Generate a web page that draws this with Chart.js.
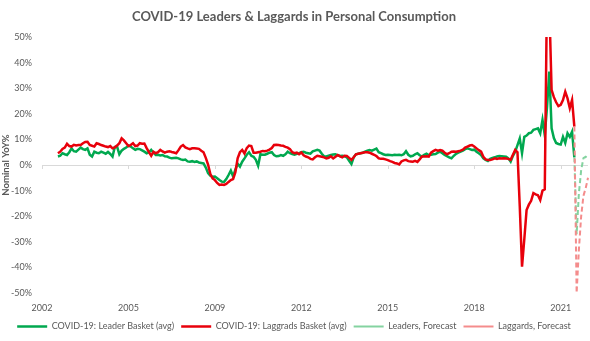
<!DOCTYPE html>
<html>
<head>
<meta charset="utf-8">
<script src="https://cdn.jsdelivr.net/npm/chart.js@4"></script>
<style>
  html, body { margin: 0; padding: 0; background: #fff; }
  #wrap { width: 590px; height: 341px; }
</style>
</head>
<body>
<div id="wrap"><canvas id="chart" width="590" height="341"></canvas></div>
<script>
// monthly categories, first one is Oct 2002
const firstMonth = { year: 2002, month: 10 };
const monthCount = 241;
const labelEvery = 38; // one year label every 38 months, like the excel axis

// nominal YoY %, actuals
const leaders = [
  null, null, null, null, null, null, null,
  3.3, 3.6, 4.6, 4.2, 3.9, 5.0, 6.5, 5.4, 5.2, 6.0,
  6.8, 6.2, 5.9, 6.5, 4.0, 3.3, 5.2, 4.8, 4.6, 5.2,
  4.8, 4.4, 5.1, 4.3, 3.3, 7.0, 7.2, 4.2, 5.6, 6.3,
  6.8, 7.6, 7.2, 6.5, 5.9, 6.3, 6.2, 5.7, 5.2, 4.6,
  5.0, 5.9, 4.8, 3.9, 4.0, 3.7, 3.9, 3.4, 3.3, 2.9,
  2.6, 2.7, 2.8, 2.6, 2.2, 2.0, 2.1, 1.4, 1.3, 1.5, 1.2,
  1.4, 1.0, 0.8, 0.6, -1.0, -3.2, -4.2, -4.6, -4.5, -5.2,
  -5.9, -6.5, -6.6, -5.5, -3.9, -2.2, -4.5, -1.8, 0.5, -0.6,
  1.3, 2.6, 4.0, 5.0, 3.6, 3.2, 2.0, -0.3, 4.2, 4.0,
  4.0, 4.4, 4.8, 5.0, 3.9, 3.4, 3.5, 3.9, 3.6, 4.2,
  5.2, 4.6, 4.3, 4.0, 4.4, 4.6, 5.0, 5.2, 4.8, 4.6,
  4.4, 5.3, 5.6, 5.9, 5.6, 4.4, 3.4, 3.3, 3.6, 3.9,
  4.1, 4.2, 3.8, 3.5, 3.6, 3.4, 3.0, 1.6, 0.4, 3.0,
  4.2, 4.4, 4.6, 4.8, 5.2, 5.6, 5.8, 5.6, 6.0, 6.4,
  5.0, 4.6, 4.2, 3.9, 4.0, 3.9, 3.8, 4.0, 3.9, 4.0,
  3.8, 4.2, 5.4, 4.0, 3.4, 3.6, 4.2, 4.6, 3.8, 3.3,
  4.0, 4.4, 3.9, 4.0, 4.2, 4.3, 4.8, 5.2, 4.6, 3.9, 3.5,
  3.0, 2.6, 3.6, 4.4, 4.8, 5.2, 5.6, 6.2, 6.5, 6.2,
  5.9, 6.0, 5.2, 4.6, 3.9, 2.6, 2.0, 1.6, 2.4, 2.8,
  3.0, 3.3, 3.5, 3.4, 3.3, 3.2, 2.6, 1.3, 3.6, 5.2,
  7.8, 10.4, 4.6, 11.0, 11.5, 12.4, 12.6, 13.7, 14.0, 14.3,
  12.4, 17.6, 11.7, 22.8, 36.5, 14.3, 10.5, 8.6, 8.2, 8.0,
  11.0, 8.6, 12.4, 11.0, 13.0, 3.0
];

const laggards = [
  null, null, null, null, null, null, null,
  4.6, 5.2, 6.3, 6.8, 8.3, 7.4, 7.2, 7.9, 7.6, 7.8,
  7.8, 8.5, 9.0, 9.1, 7.8, 7.5, 7.2, 8.5, 8.2, 7.8,
  7.5, 7.2, 7.0, 7.4, 6.5, 6.9, 7.6, 8.5, 10.4, 9.6,
  8.5, 7.4, 7.8, 8.5, 7.4, 7.6, 8.5, 8.3, 8.4, 6.6,
  5.0, 3.6, 5.2, 4.6, 5.0, 5.9, 5.3, 4.8, 5.2, 5.4,
  5.1, 4.9, 4.6, 5.8, 7.2, 7.8, 6.9, 6.5, 6.2, 6.5, 6.5,
  6.4, 6.3, 5.6, 5.0, 2.8, 0.2, -3.5, -5.2, -5.9, -7.0,
  -7.8, -7.6, -7.8, -7.4, -6.6, -5.9, -5.5, -2.8, 2.6, 5.0,
  5.9, 4.5, 6.6, 7.6, 7.4, 4.8, 4.8, 5.0, 5.2, 5.5,
  5.4, 5.6, 6.0, 6.6, 7.8, 7.9, 7.8, 7.6, 7.5, 7.1,
  6.8, 6.2, 5.0, 4.6, 4.8, 4.2, 4.9, 3.8, 3.3, 3.0,
  2.4, 2.2, 3.0, 3.6, 3.4, 3.2, 3.0, 2.6, 2.8, 3.4,
  2.6, 3.2, 3.9, 3.4, 3.0, 3.6, 3.5, 2.8, 2.0, 3.0,
  4.2, 4.4, 4.6, 4.8, 5.0, 5.0, 4.8, 4.4, 4.0, 3.5,
  2.6, 2.4, 2.4, 2.2, 1.9, 1.5, 1.2, 0.8, 0.6, 0.2,
  1.4, 1.8, 2.0, 1.5, 1.4, 1.3, 1.6, 1.2, 2.2, 3.3,
  3.3, 3.4, 3.3, 4.8, 5.4, 5.9, 5.6, 5.8, 5.6, 4.8, 4.2,
  4.6, 5.2, 5.3, 5.2, 5.4, 5.6, 6.0, 6.8, 7.2, 7.6,
  7.8, 7.2, 6.5, 5.8, 5.2, 3.2, 2.2, 2.0, 2.0, 2.2,
  2.6, 2.4, 2.6, 2.5, 2.6, 2.5, 2.4, 2.0, 4.0, 5.9,
  5.0, -16.0, -39.7, -29.0, -17.6, -15.5, -14.0, -11.0, -11.5, -11.8,
  -13.7, -10.0, -9.5, 70.0, 62.0, 29.3, 26.5, 24.5, 23.0, 23.5,
  25.4, 28.6, 26.0, 22.2, 25.4, 15.0
];

// forecasts start at the last actual month
const leadersForecast = [3.0, -27.0, -11.0, -2.0, 2.7, 3.2, 2.5];
const laggardsForecast = [15.0, -50.0, -33.0, -20.0, -12.0, -9.0, -5.0];

const seriesNames = [
  'COVID-19: Leader Basket (avg)',
  'COVID-19: Laggrads Basket (avg)',
  'Leaders, Forecast',
  'Laggards, Forecast'
];

const months = [];
for (let i = 0; i < monthCount; i++) {
  const m = firstMonth.month - 1 + i;
  const y = firstMonth.year + Math.floor(m / 12);
  months.push(y + '-' + String(m % 12 + 1).padStart(2, '0'));
}

const pad = n => Array(n).fill(null);

const textColor = '#595959';
const fontFamily = 'Lato, "Liberation Sans", sans-serif';

// little tick marks on the 0% line, under each year label
const zeroTicks = {
  id: 'zeroTicks',
  beforeDatasetsDraw(chart) {
    const { ctx, scales: { x, y } } = chart;
    const y0 = Math.round(y.getPixelForValue(0));
    ctx.save();
    ctx.strokeStyle = '#d9d9d9';
    ctx.lineWidth = 1;
    x.ticks.forEach(t => {
      const px = Math.round(x.getPixelForValue(t.value)) + 0.5;
      ctx.beginPath();
      ctx.moveTo(px, y0);
      ctx.lineTo(px, y0 + 4);
      ctx.stroke();
    });
    ctx.restore();
  }
};

new Chart(document.getElementById('chart'), {
  type: 'line',
  data: {
    labels: months,
    datasets: [{
      label: seriesNames[0],
      data: leaders,
      borderColor: '#00a84f',
      backgroundColor: '#00a84f',
      borderWidth: 2.5,
      order: 3
    }, {
      label: seriesNames[1],
      data: laggards,
      borderColor: '#e8000b',
      backgroundColor: '#e8000b',
      borderWidth: 2.5,
      order: 2
    }, {
      label: seriesNames[2],
      data: pad(leaders.length - 1).concat(leadersForecast),
      borderColor: '#84d3a0',
      backgroundColor: '#84d3a0',
      borderWidth: 2,
      borderDash: [5, 3],
      order: 1
    }, {
      label: seriesNames[3],
      data: pad(laggards.length - 1).concat(laggardsForecast),
      borderColor: '#f48c8c',
      backgroundColor: '#f48c8c',
      borderWidth: 2,
      borderDash: [5, 3],
      order: 0
    }]
  },
  options: {
    responsive: false,
    animation: false,
    devicePixelRatio: 1,
    elements: { point: { radius: 0 }, line: { tension: 0 } },
    layout: { padding: { left: 0, right: 2, top: 0, bottom: 0 } },
    plugins: {
      title: {
        display: true,
        text: 'COVID-19 Leaders & Laggards in Personal Consumption',
        color: textColor,
        font: { family: fontFamily, size: 13, weight: 'bold' },
        padding: { top: 9, bottom: 12.4 }
      },
      legend: {
        position: 'bottom',
        labels: {
          usePointStyle: true,
          pointStyle: 'line',
          pointStyleWidth: 30,
          padding: 7,
          color: textColor,
          font: { family: fontFamily, size: 9 },
          sort: (a, b) => a.datasetIndex - b.datasetIndex
        }
      },
      tooltip: { enabled: false }
    },
    scales: {
      x: {
        grid: { display: false, drawTicks: false },
        border: { display: false },
        afterBuildTicks: axis => {
          axis.ticks = axis.ticks.filter(t => t.value % labelEvery === 0);
        },
        afterFit: s => { s.height = 22; },
        ticks: {
          autoSkip: false,
          maxRotation: 0,
          minRotation: 0,
          padding: 10,
          color: textColor,
          font: { family: fontFamily, size: 9 },
          callback: function (value) {
            return this.getLabelForValue(value).slice(0, 4);
          }
        }
      },
      y: {
        min: -50,
        max: 50,
        afterFit: s => { s.width = 42; },
        border: { display: false },
        grid: {
          drawTicks: false,
          color: c => (c.tick && c.tick.value === 0) ? '#d9d9d9' : 'rgba(0,0,0,0)'
        },
        title: {
          display: true,
          text: 'Nominal YoY%',
          color: textColor,
          font: { family: fontFamily, size: 9.5, weight: 'bold' },
          padding: 0
        },
        ticks: {
          stepSize: 10,
          padding: 10,
          color: textColor,
          font: { family: fontFamily, size: 9 },
          callback: v => v + '%'
        }
      }
    }
  },
  plugins: [zeroTicks]
});
</script>
</body>
</html>
